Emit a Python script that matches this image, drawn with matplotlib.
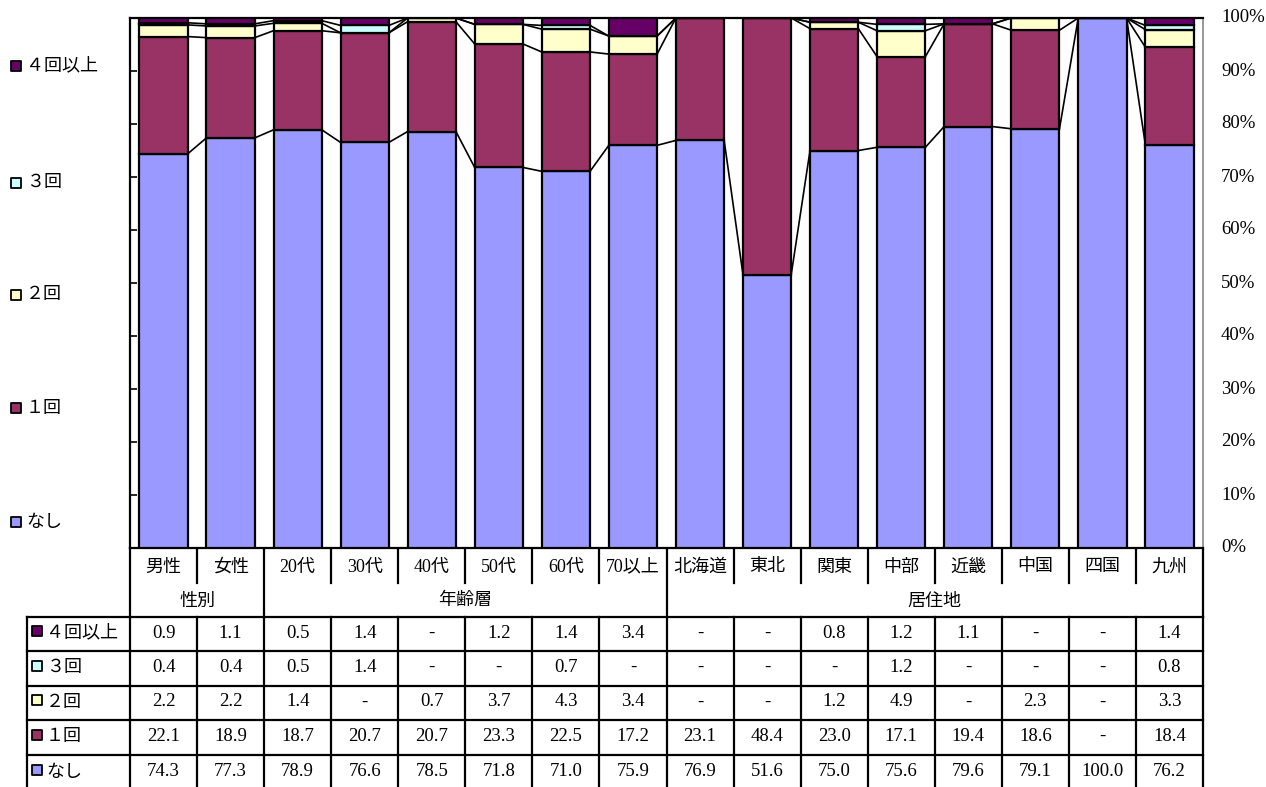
import matplotlib
matplotlib.use('Agg')
import matplotlib.pyplot as plt
import numpy as np

plt.rcParams['font.family'] = ['Liberation Serif', 'Noto Sans CJK JP']

categories = ['男性', '女性', '20代', '30代', '40代', '50代', '60代', '70以上',
              '北海道', '東北', '関東', '中部', '近畿', '中国', '四国', '九州']
groups = [('性別', 0, 2), ('年齢層', 2, 8), ('居住地', 8, 16)]
series = ['なし', '１回', '２回', '３回', '４回以上']
colors = ['#9999FF', '#993366', '#FFFFCC', '#CCFFFF', '#660066']

# None = '-'
nashi = [74.3, 77.3, 78.9, 76.6, 78.5, 71.8, 71.0, 75.9, 76.9, 51.6, 75.0, 75.6, 79.6, 79.1, 100.0, 76.2]
ikkai = [22.1, 18.9, 18.7, 20.7, 20.7, 23.3, 22.5, 17.2, 23.1, 48.4, 23.0, 17.1, 19.4, 18.6, None, 18.4]
nikai = [2.2, 2.2, 1.4, None, 0.7, 3.7, 4.3, 3.4, None, None, 1.2, 4.9, None, 2.3, None, 3.3]
sankai = [0.4, 0.4, 0.5, 1.4, None, None, 0.7, None, None, None, None, 1.2, None, None, None, 0.8]
yonkai = [0.9, 1.1, 0.5, 1.4, None, 1.2, 1.4, 3.4, None, None, 0.8, 1.2, 1.1, None, None, 1.4]
values = [nashi, ikkai, nikai, sankai, yonkai]

W, H = 1266, 787
fig = plt.figure(figsize=(W / 100, H / 100), dpi=100)

# overlay in pixel coords for table / legend
ov = fig.add_axes([0, 0, 1, 1])
ov.set_xlim(0, W)
ov.set_ylim(H, 0)
ov.axis('off')

L, R, T, B = 130, 1203, 18, 548
ax = fig.add_axes([L / W, 1 - B / H, (R - L) / W, (B - T) / H])

n = len(categories)
x = np.arange(n)
bw = 0.72
data = np.array([[0 if v is None else v for v in s] for s in values], dtype=float)
data = data / data.sum(axis=0) * 100
cum = np.vstack([np.zeros(n), np.cumsum(data, axis=0)])

for k in range(len(series)):
    ax.bar(x, data[k], bw, bottom=cum[k], color=colors[k], edgecolor='black',
           linewidth=1.6, zorder=3)

# series lines
for k in range(1, len(series) + 1):
    for i in range(n - 1):
        ax.plot([x[i] + bw / 2, x[i + 1] - bw / 2], [cum[k][i], cum[k][i + 1]],
                color='black', lw=1.2, zorder=2)

ax.set_xlim(-0.5, n - 0.5)
ax.set_ylim(0, 100)
ax.set_xticks([])
ax.set_yticks(np.arange(0, 101, 10))
ax.tick_params(axis='y', direction='in', length=5, width=1.2, labelleft=False)
for s in ['left', 'top', 'bottom']:
    ax.spines[s].set_linewidth(1.6)
ax.spines['right'].set_color('#888888')
ax.spines['right'].set_linewidth(1.2)

fs = 13.5
for v in range(0, 101, 10):
    yp = B - (B - T) * v / 100
    ov.text(1221, yp, f'{v}%', fontsize=fs, ha='left', va='center')

# legend on the left
leg_y = [522, 408, 295, 183, 66]
for k in range(len(series)):
    ov.scatter([16], [leg_y[k]], marker='s', s=55, color=colors[k], edgecolor='black',
               linewidth=1.3, zorder=5)
    ov.text(26, leg_y[k], series[k], fontsize=13, ha='left', va='center')

# table
cw = (R - L) / n
edges = [L + i * cw for i in range(n + 1)]
lw = 1.6
cat_bot, grp_bot = 583, 617
row_y = [617, 651, 686, 720, 755, 790]

for i in range(n):
    ov.text((edges[i] + edges[i + 1]) / 2, 567, categories[i], fontsize=13,
            ha='center', va='center')
group_edges = set()
for name, a, b in groups:
    ov.text((edges[a] + edges[b]) / 2, 601, name, fontsize=13, ha='center', va='center')
    group_edges.add(a)
    group_edges.add(b)
for i in range(n + 1):
    y2 = grp_bot if i in group_edges else cat_bot
    ov.plot([edges[i], edges[i]], [B, y2], color='black', lw=lw)
    ov.plot([edges[i], edges[i]], [grp_bot, H + 5], color='black', lw=lw)
ov.plot([27, 27], [grp_bot, H + 5], color='black', lw=lw)
for yv in row_y[:-1]:
    ov.plot([27, R], [yv, yv], color='black', lw=lw)

row_order = [4, 3, 2, 1, 0]
for r, k in enumerate(row_order):
    yc = (row_y[r] + row_y[r + 1]) / 2 - 1
    if r == 4:
        yc = 772
    ov.scatter([37], [yc - 2], marker='s', s=45, color=colors[k], edgecolor='black',
               linewidth=1.3, zorder=5)
    ov.text(46, yc, series[k], fontsize=13, ha='left', va='center')
    for i in range(n):
        v = values[k][i]
        s = '-' if v is None else f'{v:.1f}'
        ov.text((edges[i] + edges[i + 1]) / 2, yc, s, fontsize=fs,
                ha='center', va='center')

fig.savefig('out.png', dpi=100)
